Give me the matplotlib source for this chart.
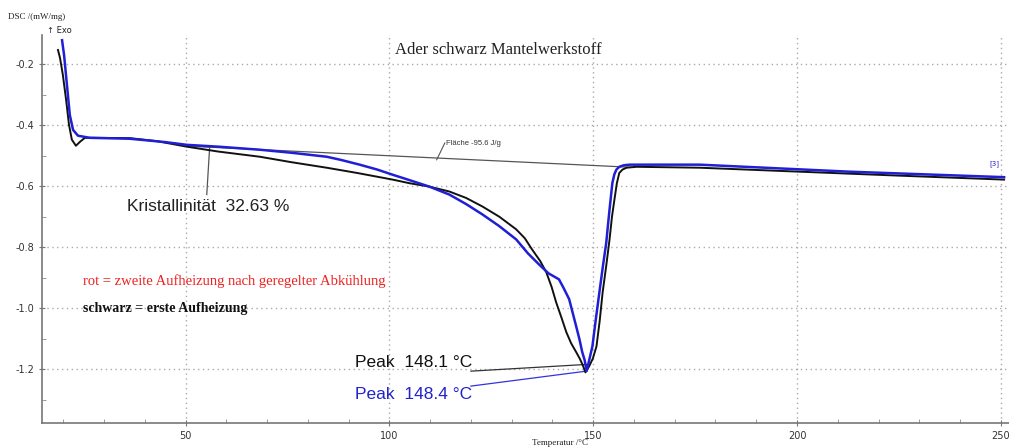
import numpy as np
import matplotlib.pyplot as plt
from matplotlib.ticker import MultipleLocator

# first heating (black)
t_black = [18.7, 19.2, 19.9, 20.7, 21.4, 22.1, 23.1, 24.1, 25.3, 27.3, 36.3, 43.0, 50.3,
           58.0, 68.2, 76.0, 84.6, 92.0, 100.8, 105.0, 109.8, 114.7, 118.8, 122.8, 127.0,
           131.1, 133.2, 135.0, 137.0, 138.5, 139.8, 140.9, 142.2, 143.4, 144.6, 145.8,
           146.7, 147.4, 148.1, 149.0, 149.9, 150.8, 151.6, 152.3, 153.2, 154.0, 154.6,
           155.2, 155.8, 156.4, 157.2, 158.2, 160.6, 176.1, 200.6, 225.1, 250.8]
dsc_black = [-0.153, -0.179, -0.235, -0.317, -0.398, -0.447, -0.467, -0.454, -0.441,
             -0.441, -0.442, -0.452, -0.470, -0.486, -0.503, -0.521, -0.539, -0.556,
             -0.578, -0.590, -0.601, -0.617, -0.638, -0.666, -0.700, -0.741, -0.770,
             -0.807, -0.845, -0.882, -0.930, -0.980, -1.030, -1.078, -1.115, -1.143,
             -1.165, -1.185, -1.210, -1.190, -1.165, -1.125, -1.040, -0.949, -0.860,
             -0.775, -0.700, -0.644, -0.590, -0.556, -0.545, -0.539, -0.536, -0.539,
             -0.552, -0.565, -0.578]

# second heating (blue)
t_blue = [19.7, 20.2, 20.9, 21.6, 22.4, 23.6, 26.5, 36.3, 45.0, 50.3, 58.0, 68.2, 76.0,
          84.6, 88.0, 92.7, 97.0, 100.8, 105.0, 109.8, 114.7, 118.8, 122.8, 126.9,
          131.1, 134.0, 136.7, 139.0, 141.6, 142.8, 144.1, 145.8, 146.6, 147.3, 147.9,
          148.4, 149.8, 150.6, 151.5, 152.4, 153.2, 153.6, 154.0, 154.7, 155.2, 155.7,
          156.4, 157.5, 158.9, 176.1, 212.8, 250.8]
dsc_blue = [-0.121, -0.170, -0.268, -0.366, -0.415, -0.434, -0.441, -0.444, -0.455,
            -0.464, -0.470, -0.480, -0.490, -0.503, -0.513, -0.529, -0.545, -0.562,
            -0.580, -0.601, -0.627, -0.658, -0.692, -0.730, -0.774, -0.820, -0.856,
            -0.885, -0.905, -0.935, -0.970, -1.058, -1.100, -1.143, -1.170, -1.205,
            -1.125, -1.040, -0.949, -0.860, -0.785, -0.730, -0.677, -0.589, -0.560,
            -0.545, -0.536, -0.531, -0.529, -0.529, -0.552, -0.570]

# integration baseline and leader lines
base_t = [50.0, 160.0]
base_y = [-0.468, -0.538]
kris_t = [55.9, 55.2]
kris_y = [-0.473, -0.627]
flaeche_t = [113.6, 111.6]
flaeche_y = [-0.458, -0.513]
peak1_t = [120.0, 148.3]
peak1_y = [-1.206, -1.184]
peak2_t = [120.0, 148.3]
peak2_y = [-1.255, -1.206]

fig = plt.figure(figsize=(10.09, 4.48), dpi=100)
ax = fig.add_axes([0.0413, 0.0558, 0.9587, 0.866])

ax.plot(t_black, dsc_black, color='#111111', lw=1.4, zorder=3)
ax.plot(t_blue, dsc_blue, color='#1f1fd6', lw=1.8, zorder=4)
ax.plot(base_t, base_y, color='#555555', lw=0.9, zorder=2)
ax.plot(kris_t, kris_y, color='#555555', lw=0.9)
ax.plot(flaeche_t, flaeche_y, color='#555555', lw=0.8)
ax.plot(peak1_t, peak1_y, color='#333333', lw=0.9)
ax.plot(peak2_t, peak2_y, color='#3333dd', lw=0.9)

ax.set_xlim(14.7, 252)
ax.set_ylim(-1.376, -0.104)

ax.xaxis.set_major_locator(MultipleLocator(50))
ax.xaxis.set_minor_locator(MultipleLocator(10))
ax.yaxis.set_major_locator(MultipleLocator(0.2))
ax.yaxis.set_minor_locator(MultipleLocator(0.1))
ax.set_xticks([50, 100, 150, 200, 250])
ax.set_yticks([-0.2, -0.4, -0.6, -0.8, -1.0, -1.2])
ax.set_yticklabels(['-0.2', '-0.4', '-0.6', '-0.8', '-1.0', '-1.2'])
ax.tick_params(which='major', direction='inout', length=4, width=0.8,
               color='#777777', labelsize=7, labelcolor='#333333')
ax.tick_params(which='minor', direction='in', length=3, width=0.7, color='#999999')

ax.grid(True, which='major', color='#aaaaaa', linestyle=(0, (1, 2.5)), lw=1.0)
for s in ['top', 'right']:
    ax.spines[s].set_visible(False)
for s in ['left', 'bottom']:
    ax.spines[s].set_color('#777777')
    ax.spines[s].set_linewidth(1.2)

# annotations
ax.text(35.6, -0.666, 'Kristallinität  32.63 %', fontsize=12.5,
        family='Liberation Sans', color='#222222', va='center')
ax.text(114.0, -0.459, 'Fläche -95.6 J/g', fontsize=5.5,
        family='Liberation Sans', color='#333333', va='center')
ax.text(91.5, -1.176, 'Peak  148.1 °C', fontsize=12.5,
        family='Liberation Sans', color='#111111', va='center')
ax.text(91.5, -1.281, 'Peak  148.4 °C', fontsize=12.5,
        family='Liberation Sans', color='#2222cc', va='center')
ax.text(24.8, -0.911, 'rot = zweite Aufheizung nach geregelter Abkühlung',
        fontsize=10.5, family='Liberation Serif', color='#ee2222', va='center')
ax.text(24.8, -1.0, 'schwarz = erste Aufheizung', fontsize=10,
        family='Liberation Serif', weight='bold', color='#111111', va='center')
ax.text(249.6, -0.525, '[3]', fontsize=5, color='#2222cc', ha='right', va='center')

fig.text(0.494, 0.888, 'Ader schwarz Mantelwerkstoff', fontsize=12,
         family='Liberation Serif', color='#222222', ha='center', va='center')
fig.text(0.008, 0.962, 'DSC /(mW/mg)', fontsize=6.5, family='Liberation Serif',
         color='#222222', va='center')
fig.text(0.047, 0.933, '↑ Exo', fontsize=6, family='DejaVu Sans',
         color='#222222', va='center')
fig.text(0.555, 0.012, 'Temperatur /°C', fontsize=6.5, family='Liberation Serif',
         color='#222222', ha='center', va='center')

fig.savefig('out.png', dpi=100)
